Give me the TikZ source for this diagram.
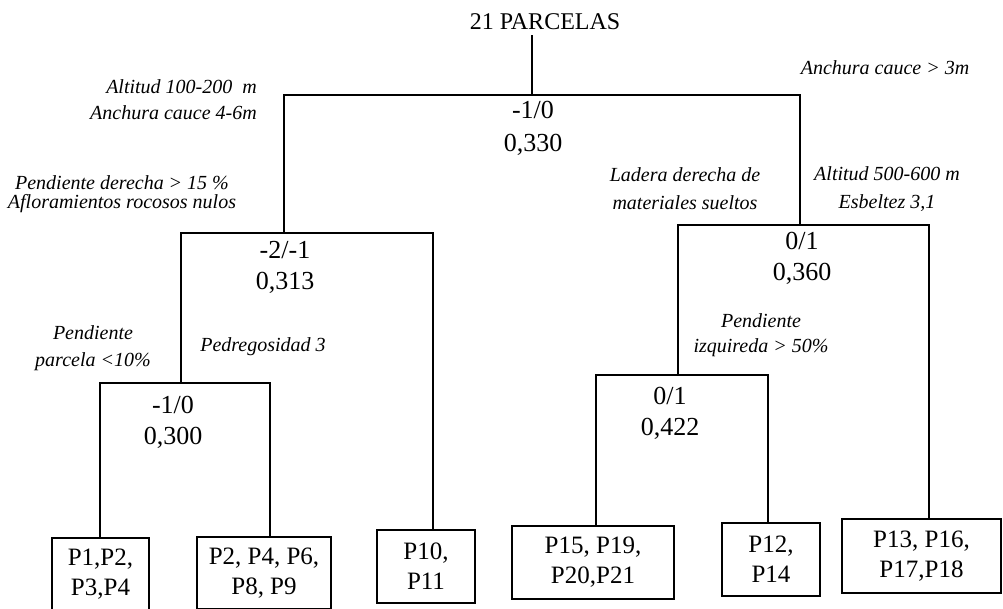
\documentclass[tikz,border=0pt]{standalone}
\usepackage{fontspec}
\setmainfont{Liberation Serif}
\begin{document}
\begin{tikzpicture}[x=1pt,y=-1pt,
  tree/.style={line width=1.6pt},
  num/.style={font=\fontsize{26}{31}\selectfont, align=center, inner sep=0pt},
  leaf/.style={draw, line width=1.6pt, font=\fontsize{25}{30}\selectfont, align=center, inner sep=0pt},
  lab/.style={font=\fontsize{20}{26}\selectfont\itshape, align=center, inner sep=0pt}]
\useasboundingbox[fill=white] (0,0) rectangle (1003,608);

% root
\node[font=\fontsize{24}{28}\selectfont, inner xsep=0pt, inner ysep=5pt] (root) at (545,22) {21 PARCELAS};

% split coordinates
\coordinate (s0) at (532,95);
\coordinate (s0l) at (284,95);  \coordinate (s0r) at (800,95);
\coordinate (s1) at (284,233);  \coordinate (s1l) at (181,233); \coordinate (s1r) at (433,233);
\coordinate (s2) at (181,383);  \coordinate (s2l) at (100,383); \coordinate (s2r) at (270,383);
\coordinate (s3) at (800,225);  \coordinate (s3l) at (678,225); \coordinate (s3r) at (929,225);
\coordinate (s4) at (678,375);  \coordinate (s4l) at (596,375); \coordinate (s4r) at (768,375);

% leaves
\node[leaf, minimum width=97pt, minimum height=72pt] (L1) at (100.5,574) {P1,P2,\\P3,P4};
\node[leaf, minimum width=134pt, minimum height=72pt] (L2) at (264,573) {P2, P4, P6,\\P8, P9};
\node[leaf, minimum width=98pt, minimum height=73pt] (L3) at (426,566.5) {P10,\\P11};
\node[leaf, minimum width=162pt, minimum height=73pt] (L4) at (593,562.5) {P15, P19,\\P20,P21};
\node[leaf, minimum width=98pt, minimum height=73pt] (L5) at (771,559.5) {P12,\\P14};
\node[leaf, minimum width=159pt, minimum height=74pt] (L6) at (921.5,556) {P13, P16,\\P17,P18};

% connectors
\draw[tree] (root.south -| s0) -- (s0);
\draw[tree] (s1) -- (s0l) -- (s0r) -- (s3);
\draw[tree] (s2) -- (s1l) -- (s1r) -- (s1r |- L3.north);
\draw[tree] (s2l |- L1.north) -- (s2l) -- (s2r) -- (s2r |- L2.north);
\draw[tree] (s4) -- (s3l) -- (s3r) -- (s3r |- L6.north);
\draw[tree] (s4l |- L4.north) -- (s4l) -- (s4r) -- (s4r |- L5.north);

% values
\node[num, font=\fontsize{26}{33}\selectfont] (n0) at (533,128.5) {-1/0\\0,330};
\node[num] (n1) at (285,267.5) {-2/-1\\0,313};
\node[num] (n2) at (173,422) {-1/0\\0,300};
\node[num] (n3) at (802,258) {0/1\\0,360};
\node[num] (n4) at (670,413) {0/1\\0,422};

% condition labels
\node[lab, align=right, anchor=east] (c1) at (257,100) {Altitud 100-200\ \ m\\Anchura cauce 4-6m};
\node[lab, font=\fontsize{20}{19}\selectfont\itshape] (c2) at (122,194) {Pendiente derecha > 15 \%\\Afloramientos rocosos nulos};
\node[lab] (c3) at (885,68) {Anchura cauce > 3m};
\node[lab, font=\fontsize{20}{28}\selectfont\itshape] (c4) at (685,189) {Ladera derecha de\\materiales sueltos};
\node[lab, font=\fontsize{20}{28}\selectfont\itshape] (c5) at (887,189) {Altitud 500-600 m\\Esbeltez 3,1};
\node[lab, font=\fontsize{20}{27}\selectfont\itshape] (c6) at (93,348.5) {Pendiente\\parcela <10\%};
\node[lab] (c7) at (263,347) {Pedregosidad 3};
\node[lab, font=\fontsize{20}{25}\selectfont\itshape] (c8) at (761,335.5) {Pendiente\\izquireda > 50\%};
\end{tikzpicture}
\end{document}
